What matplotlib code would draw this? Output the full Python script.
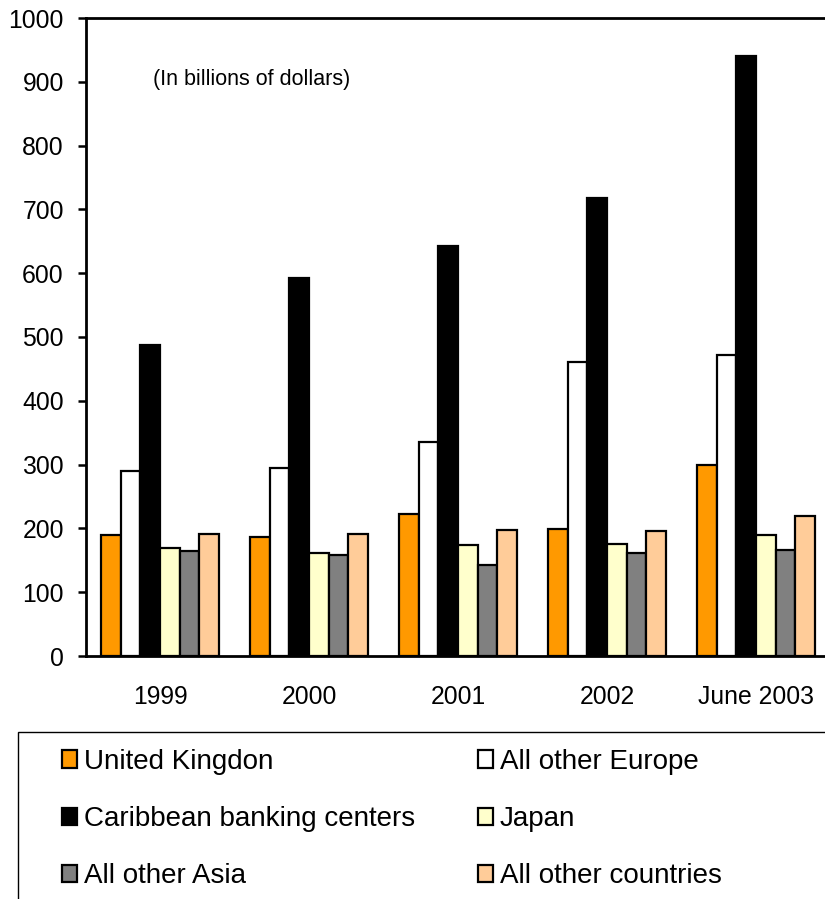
import matplotlib
matplotlib.use("Agg")
import matplotlib.pyplot as plt
from matplotlib.patches import Rectangle
import numpy as np

plt.rcParams['font.family'] = ['Liberation Sans', 'DejaVu Sans']

# values (billions of dollars)
periods = ["1999", "2000", "2001", "2002", "June 2003"]
series_names = ["United Kingdon", "All other Europe", "Caribbean banking centers",
                "Japan", "All other Asia", "All other countries"]
uk = [190, 187, 222, 199, 300]
other_europe = [290, 294, 335, 461, 472]
caribbean = [487, 593, 642, 718, 940]
japan = [170, 162, 174, 176, 190]
other_asia = [165, 158, 143, 161, 166]
other_countries = [192, 192, 198, 196, 220]
yticks = [0, 100, 200, 300, 400, 500, 600, 700, 800, 900, 1000]

series = [uk, other_europe, caribbean, japan, other_asia, other_countries]
colors = ["#FF9900", "#FFFFFF", "#000000", "#FFFFCC", "#808080", "#FFCC99"]

fig = plt.figure(figsize=(8.25, 8.99), dpi=100)
ax = fig.add_axes([86 / 825, 1 - 656 / 899, 1 - 86 / 825, (656 - 18) / 899])

x = np.arange(len(periods))
w = 0.132
handles = []
for k, (vals, col) in enumerate(zip(series, colors)):
    b = ax.bar(x + (k - 2.5) * w, vals, w, color=col, edgecolor="black",
               linewidth=1.6, zorder=2)
    handles.append(b)

ax.set_ylim(0, 1000)
ax.set_xlim(-0.497, 4.463)
ax.set_yticks(yticks)
ax.set_xticks(x)
ax.set_xticklabels(periods)
ax.tick_params(axis="y", length=6, width=1.8, labelsize=17.8, pad=10)
ax.tick_params(axis="x", length=0, labelsize=17.8, pad=21)
for side in ["left", "bottom", "top"]:
    ax.spines[side].set_linewidth(2.0)
ax.spines["right"].set_visible(False)

fig.text(153 / 825, 1 - 80 / 899, "(In billions of dollars)", fontsize=15.5,
         va="center")

# legend box
fig.patches.append(Rectangle((18 / 825, -0.05), 1.0, 0.05 + (1 - 732 / 899),
                             transform=fig.transFigure, fill=False,
                             edgecolor="black", linewidth=1.0))

# legend is filled row by row in the reference
order = [0, 2, 4, 1, 3, 5]
fig.legend([handles[i] for i in order], [series_names[i] for i in order],
           ncol=2, loc="upper left",
           bbox_to_anchor=(62 / 825, 1 - 749 / 899), frameon=False,
           fontsize=20, handlelength=0.55, handleheight=0.6,
           handletextpad=0.25, columnspacing=2.25, labelspacing=1.12,
           borderpad=0, borderaxespad=0)

fig.savefig("out.png", dpi=100)
